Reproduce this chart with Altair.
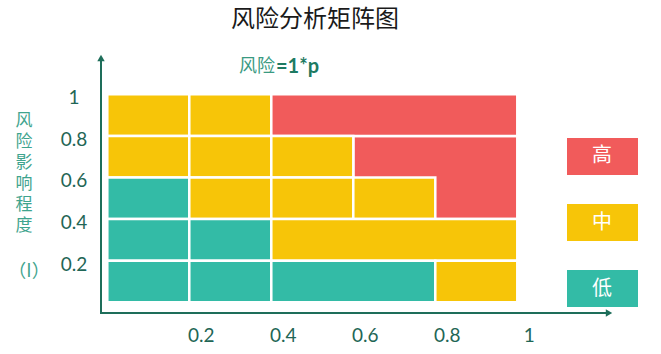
import altair as alt
import pandas as pd

# ---- data ----
levels = ["高", "中", "低"]
level_colors = ["#F15B5B", "#F7C508", "#33BBA6"]

# matrix blocks (probability x0..x1, impact y0..y1, risk level); first block is drawn underneath
cell_x0 = [0.6, 0.0, 0.2, 0.4, 0.0, 0.2, 0.4, 0.0, 0.2, 0.4, 0.6, 0.0, 0.2, 0.4, 0.0, 0.2, 0.4, 0.8]
cell_x1 = [1.0, 0.2, 0.4, 1.0, 0.2, 0.4, 0.6, 0.2, 0.4, 0.6, 0.8, 0.2, 0.4, 1.0, 0.2, 0.4, 0.8, 1.0]
cell_y0 = [0.4, 0.8, 0.8, 0.8, 0.6, 0.6, 0.6, 0.4, 0.4, 0.4, 0.4, 0.2, 0.2, 0.2, 0.0, 0.0, 0.0, 0.0]
cell_y1 = [0.8, 1.0, 1.0, 1.0, 0.8, 0.8, 0.8, 0.6, 0.6, 0.6, 0.6, 0.4, 0.4, 0.4, 0.2, 0.2, 0.2, 0.2]
cell_level = ["高", "中", "中", "高", "中", "中", "中", "低", "中", "中", "中",
              "低", "低", "中", "低", "低", "低", "中"]

x_ticks = [0.2, 0.4, 0.6, 0.8, 1.0]
x_tick_labels = ["0.2", "0.4", "0.6", "0.8", "1"]
y_ticks = [0.2, 0.4, 0.6, 0.8, 1.0]
y_tick_labels = ["0.2", "0.4", "0.6", "0.8", "1"]

title_text = "风险分析矩阵图"
subtitle_cn = "风险"
subtitle_formula = "=1*p"
y_title_chars = "风\n险\n影\n响\n程\n度"
y_title_tail = "（I）"

cells_df = pd.DataFrame({"x0": cell_x0, "x1": cell_x1, "y0": cell_y0, "y1": cell_y1,
                         "level": cell_level, "order": list(range(len(cell_x0)))})
xt_df = pd.DataFrame({"v": x_ticks, "label": x_tick_labels})
yt_df = pd.DataFrame({"v": y_ticks, "label": y_tick_labels})
legend_df = pd.DataFrame({"level": levels})
one = pd.DataFrame({"a": [0]})

# ---- styles ----
axis_color = "#1E6E5A"
label_color = "#1F6656"
font_latin = "Lato"
font_cjk = "Noto Sans CJK SC"

xs = alt.Scale(domain=[-0.2617, 1.3505], nice=False, zero=False)
ys = alt.Scale(domain=[-0.2486, 1.4534], nice=False, zero=False)
cscale = alt.Scale(domain=levels, range=level_colors)

cells = alt.Chart(cells_df).mark_rect(stroke="white", strokeWidth=2.5).encode(
    x=alt.X("x0:Q", scale=xs, axis=None),
    x2="x1:Q",
    y=alt.Y("y0:Q", scale=ys, axis=None),
    y2="y1:Q",
    color=alt.Color("level:N", scale=cscale, legend=None),
    order=alt.Order("order:Q"),
)

x_labels = alt.Chart(xt_df).mark_text(
    align="center", baseline="middle", dx=12, font=font_latin, fontSize=19, color=label_color
).encode(
    x=alt.X("v:Q", scale=xs, axis=None),
    y=alt.value(336),
    text="label:N",
)

y_labels = alt.Chart(yt_df).mark_text(
    align="center", baseline="middle", dy=4, font=font_latin, fontSize=19, color=label_color
).encode(
    x=alt.value(74),
    y=alt.Y("v:Q", scale=ys, axis=None),
    text="label:N",
)

y_axis_line = alt.Chart(one).mark_rule(color=axis_color, strokeWidth=2).encode(
    x=alt.value(101), y=alt.value(60), y2=alt.value(313)
)
y_arrow = alt.Chart(one).mark_point(shape="triangle-up", filled=True, size=55,
                                    color=axis_color, opacity=1).encode(
    x=alt.value(101), y=alt.value(58)
)
x_axis_line = alt.Chart(one).mark_rule(color=axis_color, strokeWidth=2).encode(
    x=alt.value(100), x2=alt.value(606), y=alt.value(313)
)
x_arrow = alt.Chart(one).mark_point(shape="triangle-right", filled=True, size=55,
                                    color=axis_color, opacity=1).encode(
    x=alt.value(609), y=alt.value(313)
)

title = alt.Chart(one).mark_text(
    text=title_text, align="center", baseline="middle", font=font_cjk, fontSize=24,
    color="#1A1A1A"
).encode(x=alt.value(315), y=alt.value(20))

sub_cn = alt.Chart(one).mark_text(
    text=subtitle_cn, align="left", baseline="middle", font=font_cjk, fontSize=18,
    color="#3A9A82"
).encode(x=alt.value(239), y=alt.value(67))
sub_formula = alt.Chart(one).mark_text(
    text=subtitle_formula, align="left", baseline="middle", font=font_latin, fontSize=20,
    fontWeight="bold", color="#1E7A62"
).encode(x=alt.value(276), y=alt.value(67))

y_title = alt.Chart(one).mark_text(
    text=y_title_chars.split("\n"), align="center", baseline="top", font=font_cjk,
    fontSize=17, lineHeight=21, color="#3FA48E"
).encode(x=alt.value(24), y=alt.value(113))
y_title_tail_mark = alt.Chart(one).mark_text(
    text=y_title_tail, align="center", baseline="middle", font=font_cjk,
    fontSize=18, color="#3FA48E"
).encode(x=alt.value(29), y=alt.value(272))

lscale = alt.Scale(domain=levels, range=[138, 307], paddingInner=0.44, paddingOuter=0)
legend_rect = alt.Chart(legend_df).mark_rect().encode(
    x=alt.value(567), x2=alt.value(638),
    y=alt.Y("level:N", scale=lscale, axis=None),
    color=alt.Color("level:N", scale=cscale, legend=None),
)
legend_text = alt.Chart(legend_df).mark_text(
    font=font_cjk, fontSize=20, color="white", align="center", baseline="middle"
).encode(
    x=alt.value(602),
    y=alt.Y("level:N", scale=lscale, axis=None),
    text="level:N",
)

main = alt.layer(cells, x_labels, y_labels, y_axis_line, y_arrow, x_axis_line, x_arrow,
                 title, sub_cn, sub_formula, y_title, y_title_tail_mark)
legend = alt.layer(legend_rect, legend_text)

chart = alt.layer(main, legend).resolve_scale(y="independent").properties(
    width=661, height=354, autosize="none", padding=0
).configure_view(strokeWidth=0)

chart.save("out.html", embed_options={"renderer": "svg", "actions": False})
